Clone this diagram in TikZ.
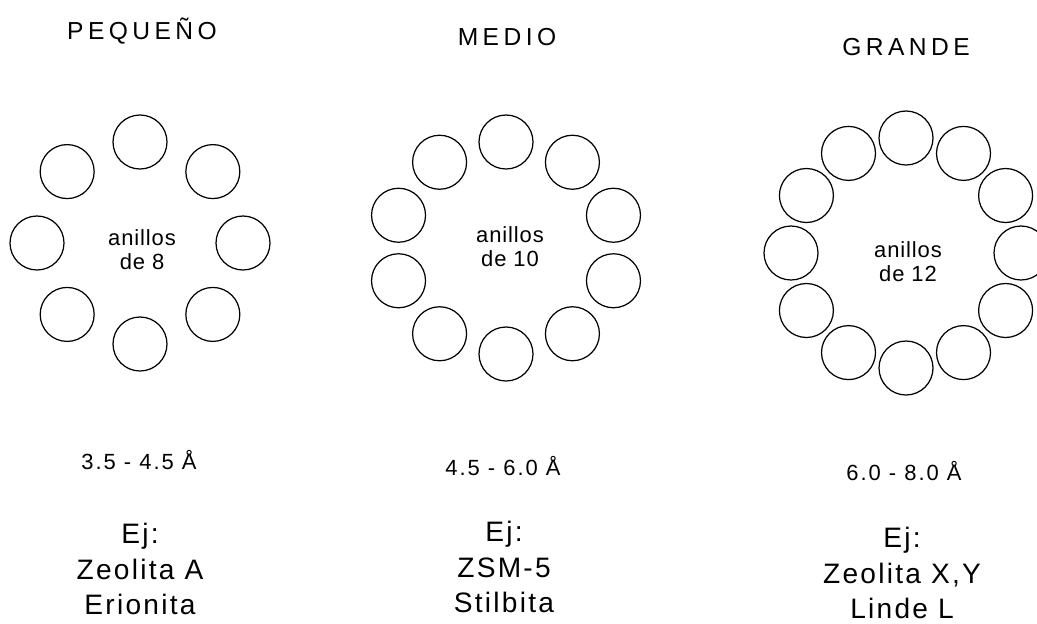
\documentclass[tikz,border=0pt]{standalone}
\usepackage{fontspec}
\setmainfont{Liberation Sans}

\tikzset{
    poro/.style={circle, draw, line width=0.7pt, minimum size=1.08cm, inner sep=0pt},
    titulo/.style={font=\fontsize{14}{17}\selectfont\addfontfeature{LetterSpace=18}},
    anillo/.style={align=center, font=\fontsize{12.5}{13.5}\selectfont\addfontfeature{LetterSpace=4}},
    tamano/.style={font=\fontsize{12.5}{14}\selectfont\addfontfeature{LetterSpace=9}},
    ejemplo/.style={align=center, font=\fontsize{16}{20}\selectfont\addfontfeature{LetterSpace=8}}
}

\begin{document}
\begin{tikzpicture}[x=0.02cm, y=-0.02cm]

            \useasboundingbox (0,0) rectangle (1037,623);

            % Titles
            \node[titulo] (tpeq) at (142,31) {PEQUEÑO};
            \node[titulo] (tmed) at (507,37) {MEDIO};
            \node[titulo] (tgra) at (906,47) {GRANDE};

            % Rings of pores
            \foreach \n/\cx/\cy/\rx/\ry/\nom in {8/140/243/103/101/p, 10/506/248/113/106/m, 12/906/253/115/115/g} {
                \foreach \k in {1,...,\n} {
                    \pgfmathsetmacro{\ang}{90 - 360*(\k-1)/\n}  % angle of the k-th pore
                    \node[poro] (\nom\k) at ({\cx + \rx*cos(\ang)}, {\cy - \ry*sin(\ang)}) {};
                }
            }

            % Ring labels
            \node[anillo] (ap) at (142,250) {anillos\\de 8};
            \node[anillo] (am) at (510,247) {anillos\\de 10};
            \node[anillo] (ag) at (908,262) {anillos\\de 12};

            % Pore sizes
            \node[tamano] (sp) at (139,460) {3.5 - 4.5 Å};
            \node[tamano] (sm) at (503,466) {4.5 - 6.0 Å};
            \node[tamano] (sg) at (904,471) {6.0 - 8.0 Å};

            % Examples
            \node[ejemplo] (ep) at (140,569) {Ej:\\Zeolita A\\Erionita};
            \node[ejemplo] (em) at (504,567) {Ej:\\ZSM-5\\Stilbita};
            \node[ejemplo] (eg) at (902,573) {Ej:\\Zeolita X,Y\\Linde L};

        \end{tikzpicture}
\end{document}
